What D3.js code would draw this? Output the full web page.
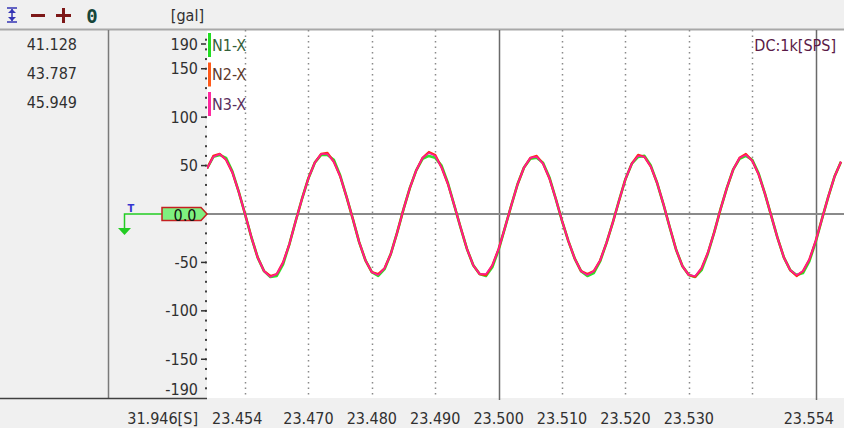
<!DOCTYPE html>
<html><head><meta charset="utf-8">
<script src="https://cdn.jsdelivr.net/npm/d3@7"></script>
<style>
html,body{margin:0;padding:0;background:#f0f0f0;}
svg{display:block;}
text{font-family:"DejaVu Sans Condensed","DejaVu Sans",sans-serif;font-stretch:condensed;}
</style></head>
<body>
<svg id="c" width="844" height="428"></svg>
<script>
// ---------------- data ----------------
const seriesNames = ["N1-X", "N2-X", "N3-X"];
const seriesColors = ["#2ee02e", "#ff2a18", "#ff1a9a"];
const legendColors = ["#22dd22", "#ff5a1a", "#ff2aa0"];
const legendTextColors = ["#35603a", "#5e3a2c", "#5a2f5e"];
const startTime = 23.454;          // [S]
const sampleStep = 0.001;          // 1k SPS
const cursorValues = ["41.128", "43.787", "45.949"];
const xTickValues = [23.470, 23.480, 23.490, 23.500, 23.510, 23.520, 23.530];
const xEdgeLabels = ["23.454", "23.554"];
const xGridMinor = [23.460, 23.470, 23.480, 23.490, 23.510, 23.520, 23.530, 23.540];
const xGridMajor = [23.500, 23.550];
const yTickValues = [-150, -100, -50, 50, 100, 150];
const yDomain = [-190, 190];
const timeLabel = "31.946[S]";
const unitLabel = "[gal]";
const rateLabel = "DC:1k[SPS]";
const zeroLabel = "0.0";

const n3 = [47,59,62,56,43,23,0,-24,-45,-59,-65,-62,-50,-31,-7,16,37,53,62,62,54,39,18,-5,-29,-48,-60,-63,-56,-41,-19,5,27,45,58,63,60,48,31,9,-14,-36,-53,-62,-62,-53,-36,-14,9,31,48,58,59,52,37,16,-7,-28,-46,-59,-63,-59,-48,-30,-9,14,36,52,60,59,49,32,10,-14,-37,-54,-63,-64,-56,-40,-19,5,27,46,58,61,55,41,21,-2,-25,-45,-58,-63,-59,-47,-28,-5,18,39,54];
const n2 = [47,60,62,56,43,23,0,-24,-45,-59,-64,-62,-50,-31,-7,16,37,53,62,63,54,39,18,-5,-29,-48,-60,-62,-56,-41,-19,5,27,45,58,64,61,48,31,9,-14,-36,-53,-62,-63,-53,-36,-14,9,31,48,58,60,52,37,16,-7,-28,-46,-59,-62,-59,-48,-30,-9,14,36,52,61,59,49,32,10,-14,-37,-54,-63,-65,-56,-40,-19,5,27,46,58,62,55,41,21,-2,-25,-45,-58,-64,-59,-47,-28,-5,18,39,54];
const n1 = [47,59,61,58,44,23,0,-24,-45,-59,-65,-64,-52,-31,-7,16,37,53,61,61,56,40,18,-5,-29,-48,-60,-64,-57,-41,-19,5,27,45,57,60,58,50,32,9,-14,-36,-53,-62,-64,-55,-37,-14,9,31,48,57,58,53,38,16,-7,-28,-46,-59,-64,-61,-49,-30,-9,14,36,52,59,60,50,32,10,-14,-37,-54,-63,-65,-58,-41,-19,5,27,46,57,60,56,42,21,-2,-25,-45,-58,-63,-61,-49,-29,-5,18,39,54];
const seriesValues = [n1, n2, n3];

// ---------------- layout ----------------
const W = 844, H = 428;
const plot = {left: 207, right: 841, top: 30, bottom: 398};
const svg = d3.select("#c");

const x = d3.scaleLinear().domain([startTime, startTime + sampleStep * (n1.length - 1)]).range([plot.left, plot.right]);
const y = d3.scaleLinear().domain(yDomain).range([plot.bottom, plot.top]);

// backgrounds
svg.append("rect").attr("x",0).attr("y",0).attr("width",W).attr("height",H).attr("fill","#f0f0f0");
svg.append("rect").attr("x",plot.left).attr("y",plot.top).attr("width",W-plot.left).attr("height",plot.bottom-plot.top).attr("fill","#ffffff");

// header separator
svg.append("line").attr("x1",0).attr("x2",W).attr("y1",29.5).attr("y2",29.5).attr("stroke","#a8a8a8").attr("stroke-width",2);
// panel separators
svg.append("line").attr("x1",108.5).attr("x2",108.5).attr("y1",30).attr("y2",plot.bottom+1).attr("stroke","#7a7a7a").attr("stroke-width",1.5);
svg.append("line").attr("x1",0).attr("x2",plot.left).attr("y1",plot.bottom+0.5).attr("y2",plot.bottom+0.5).attr("stroke","#404040").attr("stroke-width",1.5);

// toolbar icons
const tb = svg.append("g");
const blue = "#3535b5";
tb.append("line").attr("x1",7).attr("x2",17).attr("y1",8).attr("y2",8).attr("stroke",blue).attr("stroke-width",1.5);
tb.append("line").attr("x1",7).attr("x2",17).attr("y1",22).attr("y2",22).attr("stroke",blue).attr("stroke-width",1.5);
tb.append("line").attr("x1",12).attr("x2",12).attr("y1",9).attr("y2",21).attr("stroke",blue).attr("stroke-width",1.5);
tb.append("path").attr("d","M8,13 L12,9 L16,13 Z").attr("fill",blue);
tb.append("path").attr("d","M8,17 L12,21 L16,17 Z").attr("fill",blue);
tb.append("line").attr("x1",31).attr("x2",45).attr("y1",15.5).attr("y2",15.5).attr("stroke","#7d1818").attr("stroke-width",3);
tb.append("line").attr("x1",56).attr("x2",71).attr("y1",15.5).attr("y2",15.5).attr("stroke","#7d1818").attr("stroke-width",3);
tb.append("line").attr("x1",63.5).attr("x2",63.5).attr("y1",8).attr("y2",23).attr("stroke","#7d1818").attr("stroke-width",3);
tb.append("text").attr("x",92).attr("y",16).attr("dominant-baseline","central").attr("text-anchor","middle")
  .style("font-family","'DejaVu Sans Mono',monospace").style("font-weight","bold").style("font-size","19px").attr("fill","#16463a").text("0");

svg.append("text").attr("x",204).attr("y",15).attr("dominant-baseline","central").attr("text-anchor","end")
  .style("font-size","16px").attr("fill","#303030").text(unitLabel);

// cursor values in left panel
svg.selectAll(".cv").data(cursorValues).enter().append("text")
  .attr("x",77).attr("y",(d,i)=>44 + i*29).attr("dominant-baseline","central").attr("text-anchor","end")
  .style("font-size","16px").attr("fill","#303030").text(d=>d);

// vertical grid lines
const grid = svg.append("g");
grid.selectAll(".gm").data(xGridMinor).enter().append("line")
  .attr("x1",d=>Math.round(x(d))+0.5).attr("x2",d=>Math.round(x(d))+0.5).attr("y1",plot.top).attr("y2",plot.bottom)
  .attr("stroke","#8a8a8a").attr("stroke-width",1.5).attr("stroke-dasharray","1.5,4");
grid.selectAll(".gM").data(xGridMajor).enter().append("line")
  .attr("x1",d=>Math.round(x(d))+0.5).attr("x2",d=>Math.round(x(d))+0.5).attr("y1",plot.top).attr("y2",plot.bottom+2)
  .attr("stroke","#6a6a6a").attr("stroke-width",1.5);
// zero line
svg.append("line").attr("x1",plot.left).attr("x2",W).attr("y1",y(0)).attr("y2",y(0)).attr("stroke","#8a8a8a").attr("stroke-width",2);

// y axis: minor dots and major ticks
const ya = svg.append("g");
const minor = d3.range(-180, 181, 10);
ya.selectAll(".yd").data(minor).enter().append("rect")
  .attr("x",plot.left-2).attr("y",d=>y(d)-1).attr("width",2).attr("height",2).attr("fill","#404040");
ya.selectAll(".yt").data(yTickValues).enter().append("line")
  .attr("x1",plot.left-6).attr("x2",plot.left-1).attr("y1",d=>y(d)).attr("y2",d=>y(d)).attr("stroke","#303030").attr("stroke-width",1.5);
ya.selectAll(".yl").data(yTickValues).enter().append("text")
  .attr("x",198).attr("y",d=>y(d)).attr("dominant-baseline","central").attr("text-anchor","end")
  .style("font-size","16px").attr("fill","#303030").text(d=>d);
// edge labels
ya.append("text").attr("x",198).attr("y",y(yDomain[1])+14).attr("dominant-baseline","central").attr("text-anchor","end")
  .style("font-size","16px").attr("fill","#303030").text(yDomain[1]);
ya.append("line").attr("x1",plot.left-6).attr("x2",plot.left-1).attr("y1",y(yDomain[1])+14).attr("y2",y(yDomain[1])+14).attr("stroke","#303030").attr("stroke-width",1.5);
ya.append("text").attr("x",198).attr("y",y(yDomain[0])-9).attr("dominant-baseline","central").attr("text-anchor","end")
  .style("font-size","16px").attr("fill","#303030").text(yDomain[0]);

// x axis labels
const xa = svg.append("g");
xa.selectAll(".xl").data(xTickValues).enter().append("text")
  .attr("x",d=>x(d)).attr("y",418).attr("dominant-baseline","central").attr("text-anchor","middle")
  .style("font-size","16px").attr("fill","#303030").text(d=>d.toFixed(3));
xa.append("text").attr("x",plot.left+5).attr("y",418).attr("dominant-baseline","central").attr("text-anchor","start")
  .style("font-size","16px").attr("fill","#303030").text(xEdgeLabels[0]);
xa.append("text").attr("x",834).attr("y",418).attr("dominant-baseline","central").attr("text-anchor","end")
  .style("font-size","16px").attr("fill","#303030").text(xEdgeLabels[1]);
xa.append("text").attr("x",198).attr("y",418).attr("dominant-baseline","central").attr("text-anchor","end")
  .style("font-size","16px").attr("fill","#303030").text(timeLabel);

// series lines
svg.append("clipPath").attr("id","pc").append("rect")
  .attr("x",plot.left).attr("y",plot.top).attr("width",W-plot.left).attr("height",plot.bottom-plot.top);
const line = d3.line().x((d,i)=>x(startTime + i*sampleStep)).y(d=>y(d));
const widths = [2.6, 2.3, 1.5];
const lg = svg.append("g").attr("clip-path","url(#pc)");
seriesValues.forEach((vals,k)=>{
  lg.append("path").datum(vals).attr("d",line).attr("fill","none")
    .attr("stroke",seriesColors[k]).attr("stroke-width",widths[k]).attr("stroke-linejoin","round");
});

// legend
const leg = svg.append("g");
seriesNames.forEach((n,k)=>{
  const cy = 45 + k*29.5;
  leg.append("rect").attr("x",plot.left+1).attr("y",cy-12).attr("width",3).attr("height",24).attr("fill",legendColors[k]);
  leg.append("text").attr("x",plot.left+5).attr("y",cy).attr("dominant-baseline","central")
    .style("font-size","16px").attr("fill",legendTextColors[k]).text(n);
});

// rate label
svg.append("text").attr("x",836).attr("y",45).attr("dominant-baseline","central").attr("text-anchor","end")
  .style("font-size","16px").attr("fill","#5a1a46").text(rateLabel);

// zero marker (trigger arrow + flag)
const zy = y(0);
const mk = svg.append("g");
mk.append("path").attr("d",`M162,${zy} H124.5 V${zy+15}`).attr("fill","none").attr("stroke","#22cc22").attr("stroke-width",1.5);
mk.append("path").attr("d",`M118,${zy+14} L131,${zy+14} L124.5,${zy+21} Z`).attr("fill","#22cc22");
mk.append("text").attr("x",131).attr("y",zy-2).attr("text-anchor","middle")
  .style("font-size","11px").style("font-weight","bold").attr("fill","#3535d0").text("T");
mk.append("path").attr("d",`M162,${zy-6.5} H201 L207,${zy} L201,${zy+6.5} H162 Z`)
  .attr("fill","#7ff07f").attr("stroke","#c42020").attr("stroke-width",1.5);
mk.append("text").attr("x",185).attr("y",zy+1).attr("dominant-baseline","central").attr("text-anchor","middle")
  .style("font-size","16px").attr("fill","#101010").text(zeroLabel);
</script>
</body></html>
